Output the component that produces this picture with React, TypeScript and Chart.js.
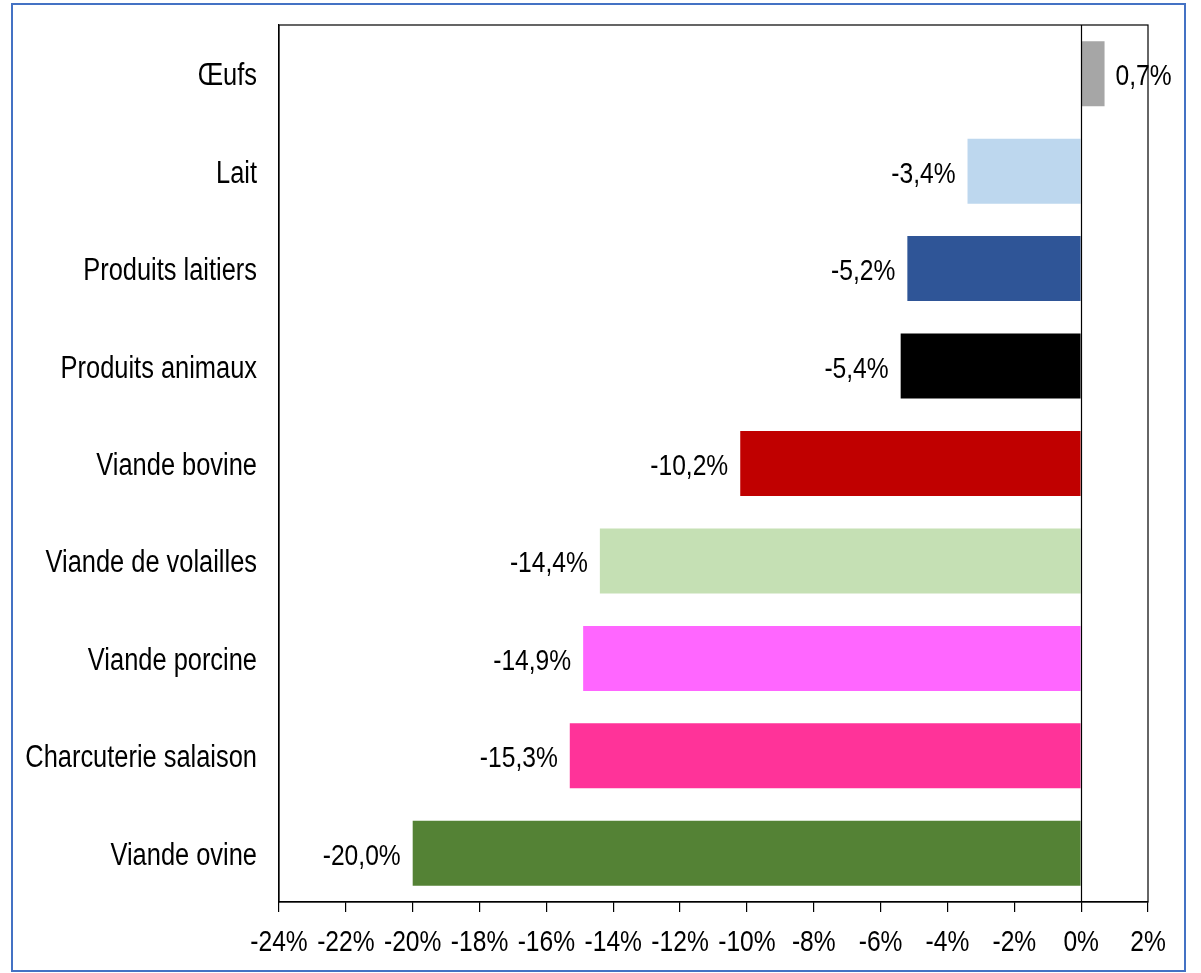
import React, { useEffect, useRef } from "react";
import { Chart, registerables } from "chart.js";

Chart.register(...registerables);

const categories = [
  "Œufs",
  "Lait",
  "Produits laitiers",
  "Produits animaux",
  "Viande bovine",
  "Viande de volailles",
  "Viande porcine",
  "Charcuterie salaison",
  "Viande ovine",
];
const values = [0.7, -3.4, -5.2, -5.4, -10.2, -14.4, -14.9, -15.3, -20.0];
const barColors = [
  "#a6a6a6",
  "#bdd7ee",
  "#2f5597",
  "#000000",
  "#c00000",
  "#c5e0b4",
  "#ff66ff",
  "#ff3399",
  "#548235",
];
const xMin = -24;
const xMax = 2;
const xStep = 2;

const FONT = '"Liberation Sans", Arial, sans-serif';
const SQUEEZE = 0.82;

const fmt = (v: number) => v.toFixed(1).replace(".", ",") + "%";

function narrowText(
  c: CanvasRenderingContext2D,
  txt: string,
  x: number,
  y: number,
  align: CanvasTextAlign,
  size: number
) {
  c.save();
  c.font = `${size}px ${FONT}`;
  c.textAlign = align;
  c.textBaseline = "alphabetic";
  c.fillStyle = "#000";
  c.translate(x, y);
  c.scale(SQUEEZE, 1);
  c.fillText(txt, 0, 0);
  c.restore();
}

export default function App() {
  const ref = useRef<HTMLCanvasElement | null>(null);

  useEffect(() => {
    document.body.style.margin = "0";
    const canvas = ref.current;
    if (!canvas) return;

    const decor = {
      id: "decor",
      beforeDraw(chart: any) {
        const c = chart.ctx;
        c.save();
        c.fillStyle = "#ffffff";
        c.fillRect(0, 0, chart.width, chart.height);
        c.restore();
      },
      afterDatasetsDraw(chart: any) {
        const c = chart.ctx;
        const a = chart.chartArea;
        const xs = chart.scales.x;
        const ys = chart.scales.y;
        c.save();
        // plot box
        c.strokeStyle = "#000";
        c.lineWidth = 1.2;
        c.strokeRect(a.left, a.top, a.right - a.left, a.bottom - a.top);
        // zero line
        const z = Math.round(xs.getPixelForValue(0)) + 0.5;
        c.beginPath();
        c.moveTo(z, a.top);
        c.lineTo(z, a.bottom);
        c.stroke();
        c.restore();
        // value labels
        const meta = chart.getDatasetMeta(0);
        meta.data.forEach((bar: any, i: number) => {
          const v = values[i];
          const txt = fmt(v);
          if (v >= 0) narrowText(c, txt, bar.x + 11, bar.y + 11.5, "left", 30);
          else narrowText(c, txt, bar.x - 12, bar.y + 11.5, "right", 30);
        });
        // category labels
        categories.forEach((cat, i) => {
          const y = ys.getPixelForValue(i);
          narrowText(c, cat, a.left - 22, y + 11.5, "right", 31);
        });
        // x tick labels
        for (let v = xMin; v <= xMax; v += xStep) {
          narrowText(c, `${v}%`, xs.getPixelForValue(v), a.bottom + 49, "center", 30);
        }
        // outer frame
        c.save();
        c.strokeStyle = "#4472c4";
        c.lineWidth = 2;
        c.strokeRect(12, 4, 1173, 967);
        c.restore();
      },
    };

    const chart = new Chart(canvas, {
      type: "bar",
      data: {
        labels: categories,
        datasets: [
          {
            data: values,
            backgroundColor: barColors,
            borderWidth: 0,
            categoryPercentage: 1,
            barPercentage: 0.667,
          },
        ],
      },
      options: {
        indexAxis: "y",
        responsive: false,
        animation: false,
        layout: { padding: { left: 0, right: 53, top: 25, bottom: 0 } },
        plugins: {
          legend: { display: false },
          tooltip: { enabled: false },
          title: { display: false },
        },
        scales: {
          x: {
            type: "linear",
            min: xMin,
            max: xMax,
            afterFit(scale: any) {
              scale.height = 71;
            },
            ticks: {
              display: false,
              stepSize: xStep,
              autoSkip: false,
            },
            grid: {
              display: true,
              drawOnChartArea: false,
              drawTicks: true,
              tickLength: 10,
              color: "#000",
              lineWidth: 1.2,
            },
            border: { display: true, color: "#000", width: 1.2 },
          },
          y: {
            type: "category",
            afterFit(scale: any) {
              scale.width = 279;
            },
            ticks: { display: false },
            grid: { display: false, drawTicks: false },
            border: { display: true, color: "#000", width: 1.2 },
          },
        },
      },
      plugins: [decor],
    } as any);

    return () => chart.destroy();
  }, []);

  return (
    <div style={{ width: 1201, height: 973 }}>
      <canvas ref={ref} width={1201} height={973} style={{ display: "block" }} />
    </div>
  );
}
